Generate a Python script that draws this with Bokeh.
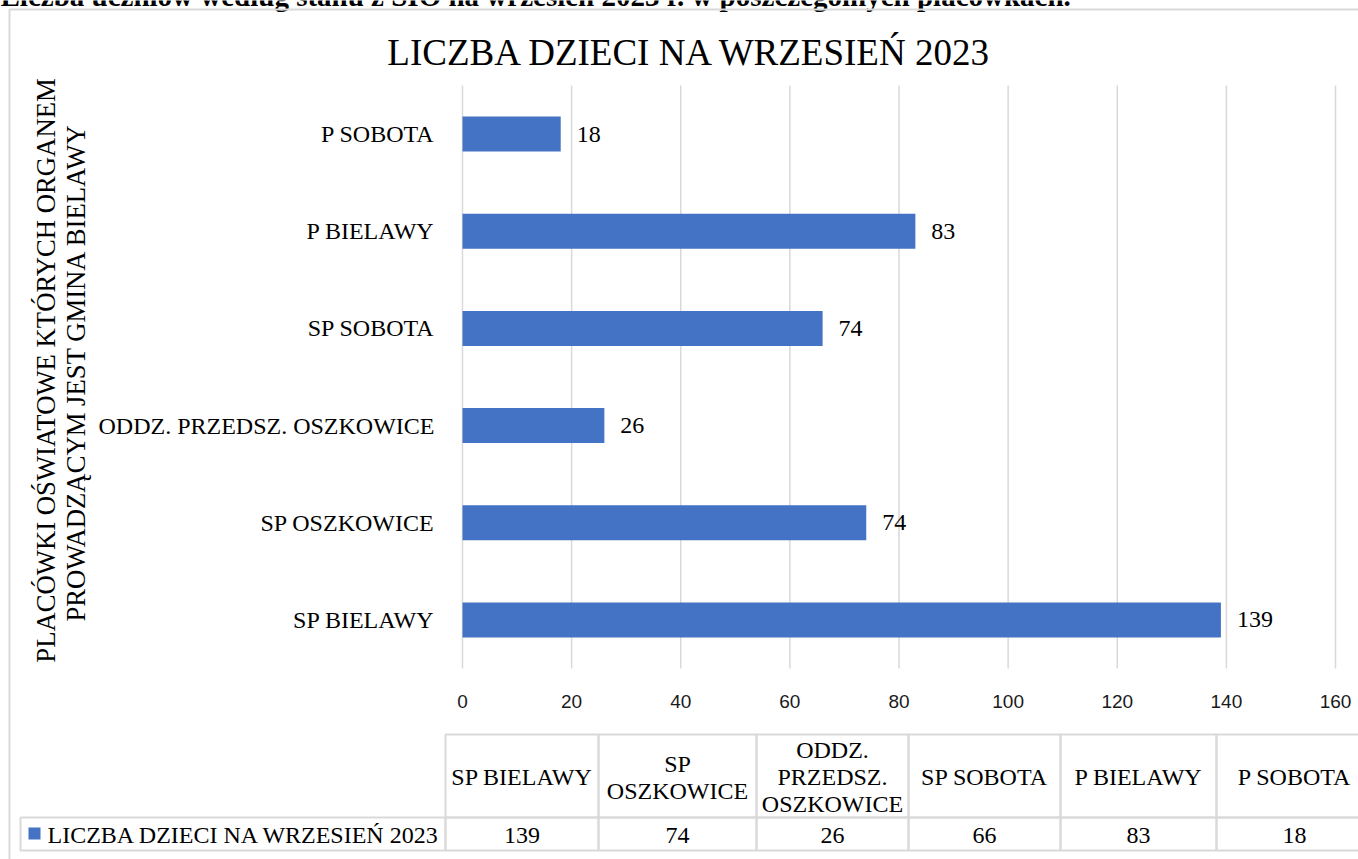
import math
from bokeh.plotting import figure
from bokeh.models import (Range1d, FixedTicker, Label, BoxAnnotation, ColumnDataSource)
from bokeh.core.properties import value
from bokeh.embed import file_html
from bokeh.resources import INLINE

# ---------------- data ----------------
categories = ["SP BIELAWY", "SP OSZKOWICE", "ODDZ. PRZEDSZ. OSZKOWICE", "SP SOBOTA", "P BIELAWY", "P SOBOTA"]
counts = [139, 74, 26, 66, 83, 18]
bar_labels = ["139", "74", "26", "74", "83", "18"]
table_headers = [["SP BIELAWY"], ["SP", "OSZKOWICE"], ["ODDZ.", "PRZEDSZ.", "OSZKOWICE"],
                 ["SP SOBOTA"], ["P BIELAWY"], ["P SOBOTA"]]
table_values = ["139", "74", "26", "66", "83", "18"]
x_ticks = [0, 20, 40, 60, 80, 100, 120, 140, 160]
series_name = "LICZBA DZIECI NA WRZESIEŃ 2023"
chart_title = "LICZBA DZIECI NA WRZESIEŃ 2023"
axis_title_lines = ["PLACÓWKI OŚWIATOWE KTÓRYCH ORGANEM", "PROWADZĄCYM JEST GMINA BIELAWY"]
page_header = "Liczba uczniów według stanu z SIO na wrzesień 2023 r. w poszczególnych placówkach."

# ---------------- layout constants (pixels) ----------------
W, H = 1358, 859
FL, FR, FT, FB = 462, 1335, 85, 668      # plot area
SERIF = "Liberation Serif"
BAR = "#4472C4"
GRID = "#d9d9d9"
TXT = "#000000"

n = len(categories)
ypos = list(range(n))
xmin, xmax = x_ticks[0], x_ticks[-1]
sx = (FR - FL) / (xmax - xmin)           # px per unit
sy = (FB - FT) / n                       # px per category

# frame covers the whole canvas; the value/category scales are set so that
# the plot area lands at FL..FR x FT..FB
p = figure(width=W, height=H,
           x_range=Range1d(xmin - FL / sx, xmax + (W - FR) / sx),
           y_range=Range1d(-0.5 - (H - FB) / sy, n - 0.5 + FT / sy),
           output_backend="svg", toolbar_location=None,
           min_border=0, min_border_left=0, min_border_right=0,
           min_border_top=0, min_border_bottom=0)
p.outline_line_color = None
p.background_fill_color = "white"
p.border_fill_color = "white"

# pixel-space ranges for layout annotations (y measured from the top)
p.extra_x_ranges = {"px": Range1d(0, W)}
p.extra_y_ranges = {"px": Range1d(H, 0)}

# grid lines (only across the plot area)
p.xgrid.grid_line_color = None
p.ygrid.grid_line_color = None
p.segment(x0=x_ticks, x1=x_ticks, y0=[-0.5] * len(x_ticks), y1=[n - 0.5] * len(x_ticks),
          line_color=GRID, line_width=1.5)

# axes placed at fixed data locations (they take no side-panel space)
p.xaxis.fixed_location = -0.5
p.xaxis.ticker = FixedTicker(ticks=x_ticks)
p.xaxis.axis_line_color = None
p.xaxis.major_tick_line_color = None
p.xaxis.minor_tick_line_color = None
p.xaxis.major_label_text_font = "Liberation Sans"
p.xaxis.major_label_text_font_size = "19px"
p.xaxis.major_label_text_color = "#1a1a1a"
p.xaxis.major_label_standoff = 20

p.yaxis.fixed_location = 0
p.yaxis.ticker = FixedTicker(ticks=ypos)
p.yaxis.major_label_overrides = {i: c for i, c in zip(ypos, categories)}
p.yaxis.axis_line_color = None
p.yaxis.major_tick_line_color = None
p.yaxis.minor_tick_line_color = None
p.yaxis.major_label_text_font = SERIF
p.yaxis.major_label_text_font_size = "24px"
p.yaxis.major_label_text_color = TXT
p.yaxis.major_label_standoff = 22

# bars and value labels
src = ColumnDataSource(dict(y=ypos, cat=categories, count=counts, lab=bar_labels))
p.hbar(y="y", right="count", left=0, height=0.36, source=src,
       fill_color=BAR, line_color=None)
p.text(x="count", y="y", text="lab", source=src, x_offset=16,
       text_baseline="middle", text_align="left",
       text_font=value(SERIF), text_font_size="24px", text_color=TXT)

def px_label(x, y, text, size, align="center", baseline="middle", angle=0, style="normal"):
    p.add_layout(Label(x=x, y=y, text=text, x_range_name="px", y_range_name="px",
                       text_font=SERIF, text_font_size=size, text_align=align,
                       text_baseline=baseline, angle=angle, text_color=TXT,
                       text_font_style=style))

def px_box(l, r, t, b, fill=None, lw=2, lc=GRID):
    p.add_layout(BoxAnnotation(left=l, right=r, top=t, bottom=b,
                               x_range_name="px", y_range_name="px",
                               fill_color=fill if fill else "white",
                               fill_alpha=1 if fill else 0,
                               line_color=lc if lc else "white", line_width=lw,
                               line_alpha=1 if lc else 0))

# page header (cut off at the top, as in the source)
px_label(0, -5, page_header, "29px", align="left", baseline="alphabetic", style="bold")

# outer chart border (right and bottom edges lie beyond the page)
px_box(9, W + 50, 9, H + 50)

# chart title
px_label(690, 52, chart_title, "37px")

# vertical axis title
px_label(45, 370, axis_title_lines[0], "26.7px", angle=math.pi / 2)
px_label(75, 372, axis_title_lines[1], "26.7px", angle=math.pi / 2)

# data table
col_edges = [445, 598, 756, 908, 1060, 1216, 1372]
head_top, row_top, row_bot = 734, 817, 850
for i in range(len(table_headers)):
    l, r = col_edges[i], col_edges[i + 1]
    px_box(l, r, head_top, row_top)
    px_box(l, r, row_top, row_bot)
    cx = (l + r) / 2
    lines = table_headers[i]
    k = len(lines)
    cy = (head_top + row_top) / 2 + 1
    for j, t in enumerate(lines):
        px_label(cx, cy + (j - (k - 1) / 2) * 27, t, "24px")
    px_label(cx, (row_top + row_bot) / 2 + 1, table_values[i], "24px")

# legend cell
px_box(20, 445, row_top, row_bot)
px_box(28, 40, 827, 839, fill=BAR, lc=None, lw=0)
px_label(47, (row_top + row_bot) / 2 + 1, series_name, "24px", align="left")

open("out.html", "w").write(file_html(p, INLINE))
